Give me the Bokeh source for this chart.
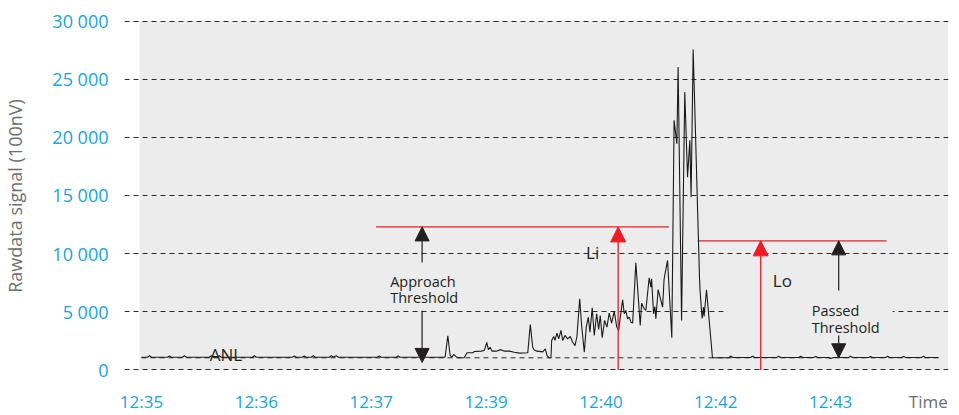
from bokeh.plotting import figure
from bokeh.models import (Range1d, FixedTicker, Label, Arrow, NormalHead, BoxAnnotation,
                          LinearAxis)
from bokeh.embed import file_html
from bokeh.resources import INLINE

# ---------------- data ----------------
time_ticks = [0, 1, 2, 3, 4, 5, 6]
time_labels = ["12:35", "12:36", "12:37", "12:39", "12:40", "12:42", "12:43"]
time_title_pos = 6.85
signal_ticks = [0, 5000, 10000, 15000, 20000, 25000, 30000]
signal_labels = ["0", "5 000", "10 000", "15 000", "20 000", "25 000", "30 000"]

# quiet period (ambient noise level)
quiet_t = [0.000, 0.052, 0.070, 0.087, 0.226, 0.243, 0.261, 0.357, 0.374, 0.391,
           0.591, 0.609, 0.626, 0.661, 0.678, 0.696, 0.965, 0.983, 1.000, 1.313,
           1.330, 1.348, 1.400, 1.417, 1.435, 1.478, 1.496, 1.513, 1.635, 1.652,
           1.670, 1.696, 1.713, 2.052, 2.070, 2.087, 2.217, 2.235, 2.252, 2.643]
quiet_v = [1100, 1100, 1220, 1100, 1100, 1200, 1100, 1100, 1220, 1100,
           1100, 1230, 1110, 1110, 1220, 1100, 1100, 1220, 1100, 1100,
           1200, 1100, 1100, 1210, 1100, 1100, 1230, 1100, 1100, 1220,
           1120, 1230, 1100, 1100, 1200, 1100, 1100, 1200, 1100, 1100]

# vehicle passing
event_t = [2.667, 2.687, 2.702, 2.719, 2.739, 2.757, 2.809, 2.835, 2.884, 2.898,
           2.957, 2.985, 3.006, 3.020, 3.035, 3.052, 3.087, 3.130, 3.159, 3.203,
           3.246, 3.290, 3.363, 3.385, 3.406, 3.417, 3.443, 3.493, 3.516, 3.530,
           3.550, 3.565, 3.571, 3.589, 3.600, 3.617, 3.632, 3.652, 3.667, 3.687,
           3.710, 3.733, 3.754, 3.774, 3.791, 3.815, 3.832, 3.855, 3.872, 3.890,
           3.904, 3.924, 3.942, 3.963, 3.980, 3.994, 4.011, 4.032, 4.052, 4.072,
           4.093, 4.116, 4.137, 4.154, 4.168, 4.189, 4.203, 4.217, 4.232, 4.246,
           4.261, 4.276, 4.304, 4.342, 4.354, 4.377, 4.391, 4.420, 4.435, 4.441,
           4.458, 4.470, 4.478, 4.498, 4.522, 4.537, 4.550, 4.580, 4.617, 4.637,
           4.661, 4.672, 4.702, 4.730, 4.754, 4.774, 4.785, 4.803, 4.858, 4.863,
           4.881, 4.893, 4.898, 4.919, 4.971]
event_v = [2940, 1250, 1100, 1340, 1150, 1050, 1050, 1480, 1480, 1590,
           1620, 1680, 2370, 1740, 1960, 1620, 1620, 1750, 1620, 1620,
           1530, 1450, 1480, 3910, 1960, 1750, 1620, 1560, 1820, 1250,
           1050, 1050, 2540, 2880, 2540, 3170, 2680, 3400, 2540, 2970,
           2680, 2880, 2390, 2100, 2880, 6120, 3830, 1530, 3680, 4540,
           3250, 5340, 2970, 4830, 3480, 4690, 2770, 4260, 3680, 4890,
           4030, 5030, 3740, 3400, 4500, 6030, 4830, 5120, 4400, 4540,
           4110, 4030, 9220, 3830, 5740, 5260, 5120, 7930, 7120, 7840,
           4830, 5460, 4400, 6900, 5980, 5400, 7840, 9420, 2770, 21460,
           19450, 26040, 4260, 23900, 16580, 19740, 14860, 27540, 7980, 6840,
           4430, 5400, 4600, 6900, 1050]

# after the vehicle has passed
after_t = [5.113, 5.130, 5.148, 5.304, 5.322, 5.339, 5.530, 5.548, 5.565, 5.722,
           5.739, 5.757, 5.852, 5.870, 5.887, 5.983, 6.000, 6.026, 6.157, 6.174,
           6.191, 6.330, 6.348, 6.365, 6.478, 6.496, 6.513, 6.617, 6.635, 6.652,
           6.791, 6.809, 6.826, 6.939]
after_v = [1050, 1200, 1080, 1080, 1180, 1080, 1080, 1180, 1080, 1080,
           1180, 1080, 1080, 1170, 1080, 1080, 980, 1080, 1080, 1180,
           1080, 1080, 1170, 1080, 1080, 1180, 1080, 1080, 1170, 1080,
           1080, 1190, 1080, 1080]

anl_level = 1050
approach_threshold = 12300
passed_threshold = 11100
approach_span = [2.043, 4.591]
passed_span = [4.843, 6.487]
li_time = 4.150
lo_time = 5.391

# ---------------- styling ----------------
FONT = "Open Sans"
BLUE = "#16a4e6"
GREY_TXT = "#6d6e70"
DARK = "#231f20"
RED = "#ee1c25"
BG = "#ececec"
DASH = "5 4"

t = quiet_t + event_t + after_t
v = quiet_v + event_v + after_v
assert len(t) == len(v)

p = figure(width=959, height=415, output_backend="svg", toolbar_location=None,
           x_range=Range1d(-0.148, 7.026), y_range=Range1d(-215, 30129),
           min_border_left=123, min_border_right=11, min_border_top=19,
           min_border_bottom=43, background_fill_color="white",
           border_fill_color="white")
p.outline_line_color = None

# grey plotting area
p.add_layout(BoxAnnotation(left=t[0] - 0.017, right=p.x_range.end, bottom=signal_ticks[0],
                           top=signal_ticks[-1], fill_color=BG, fill_alpha=1.0,
                           line_color=None, level="image"))

# axes
p.xaxis.ticker = FixedTicker(ticks=time_ticks)
p.xaxis.major_label_overrides = {k: s for k, s in zip(time_ticks, time_labels)}
p.yaxis.ticker = FixedTicker(ticks=signal_ticks)
p.yaxis.major_label_overrides = {k: s for k, s in zip(signal_ticks, signal_labels)}

# second (label-only) bottom axis carrying "Time" on the same row
time_axis = LinearAxis(ticker=FixedTicker(ticks=[time_title_pos]),
                       major_label_overrides={time_title_pos: "Time"})
p.add_layout(time_axis, "below")

for ax in (p.xaxis[0], p.yaxis[0], time_axis):
    ax.axis_line_color = None
    ax.major_tick_line_color = None
    ax.minor_tick_line_color = None
    ax.major_tick_out = 0
    ax.major_tick_in = 0
    ax.major_label_text_color = BLUE
    ax.major_label_text_font = FONT
p.xaxis[0].major_label_text_font_size = "17px"
p.xaxis[0].major_label_standoff = 17
time_axis.major_label_text_font_size = "17px"
time_axis.major_label_text_color = GREY_TXT
time_axis.major_label_standoff = -26

p.yaxis.major_label_text_font_size = "18px"
p.yaxis.major_label_standoff = 16
p.yaxis.axis_label = "Rawdata signal (100nV)"
p.yaxis.axis_label_text_font = FONT
p.yaxis.axis_label_text_font_size = "18px"
p.yaxis.axis_label_text_font_style = "normal"
p.yaxis.axis_label_text_color = GREY_TXT
p.yaxis.axis_label_standoff = 22

p.xgrid.visible = False
p.ygrid.grid_line_color = "#2a2a2a"
p.ygrid.grid_line_dash = DASH
p.ygrid.grid_line_width = 1

# gap in the 5 000 gridline behind the "Passed Threshold" note
p.add_layout(BoxAnnotation(left=5.10, right=6.54, bottom=4600, top=5400,
                           fill_color=BG, fill_alpha=1.0, line_color=None,
                           level="underlay"))

# ANL reference line
p.line([t[0], t[-1]], [anl_level, anl_level], line_color="#2a2a2a",
       line_dash=DASH, line_width=1)

# thresholds
p.line(approach_span, [approach_threshold] * 2, line_color=RED, line_width=1.3)
p.line(passed_span, [passed_threshold] * 2, line_color=RED, line_width=1.3)

# signal
p.line(t, v, line_color="#1a1a1a", line_width=1.1)

# red arrows Li / Lo
for xx, yy in ((li_time, approach_threshold), (lo_time, passed_threshold)):
    p.add_layout(Arrow(end=NormalHead(size=15, fill_color=RED, line_color=RED, line_width=1),
                       x_start=xx, y_start=0, x_end=xx, y_end=yy,
                       line_color=RED, line_width=1.3))

# black double arrows (threshold heights)
ax_app = 2.443
ax_pas = 6.070
for xs, ys, xe, ye in ((ax_app, 9240, ax_app, approach_threshold),
                       (ax_app, 5100, ax_app, 650),
                       (ax_pas, 6830, ax_pas, passed_threshold),
                       (ax_pas, 2970, ax_pas, anl_level)):
    p.add_layout(Arrow(end=NormalHead(size=14, fill_color=DARK, line_color=DARK, line_width=1),
                       x_start=xs, y_start=ys, x_end=xe, y_end=ye,
                       line_color=DARK, line_width=1.2))

def note(x, y, text, size, color=DARK, align="left"):
    p.add_layout(Label(x=x, y=y, text=text, text_font=FONT, text_font_size=size,
                       text_color=color, text_align=align,
                       text_baseline="alphabetic"))

note(2.165, 7630, "Approach", "14.5px")
note(2.165, 6200, "Threshold", "14.5px")
note(5.835, 5110, "Passed", "14.5px")
note(5.835, 3630, "Threshold", "14.5px")
note(3.870, 10100, "Li", "17px")
note(5.496, 7690, "Lo", "17px")
note(0.594, 1330, "ANL", "17px")

open("out.html", "w").write(file_html(p, INLINE))
